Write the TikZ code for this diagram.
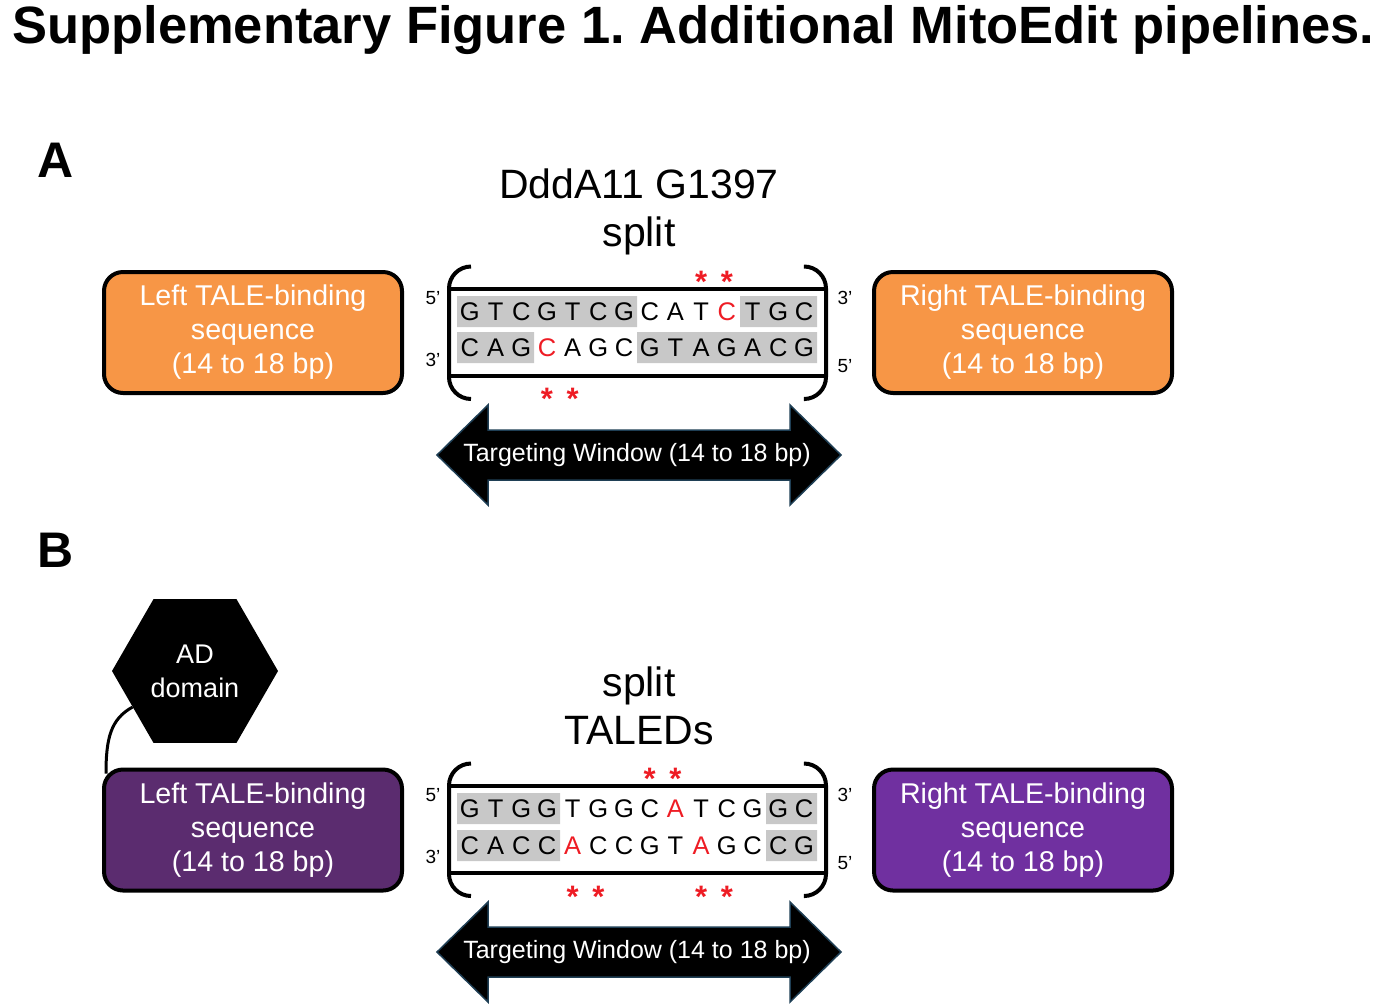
\documentclass[tikz,border=0pt]{standalone}
\usepackage{fontspec}
\setmainfont{Liberation Sans}
\usetikzlibrary{shapes.geometric}
\definecolor{taleorange}{HTML}{F79646}
\definecolor{talepurple}{HTML}{7030A0}
\definecolor{taledark}{HTML}{5B2C6F}
\definecolor{seqgrey}{HTML}{C8C8C8}
\definecolor{mutred}{HTML}{EE1C24}
\definecolor{arrowedge}{HTML}{1F3F55}
\newcommand\mut[1]{\textcolor{mutred}{#1}}
\newcommand\fs[2]{\fontsize{#1}{#2}\selectfont}
\frenchspacing

\begin{document}
\begin{tikzpicture}[x=1pt,y=-1pt,
  tale/.style={draw,line width=4pt,rounded corners=19pt,minimum width=298pt,minimum height=121pt,
    text=white,align=center,font=\fs{28.6}{34}},
  heading/.style={align=center,font=\fs{41}{48}},
  panel/.style={anchor=base west,inner sep=0pt,font=\bfseries\fs{50}{50}},
  nuc/.style={inner sep=0pt,font=\fs{25.5}{25.5}},
  prime/.style={inner sep=0pt,font=\fs{19}{19}},
  mutmark/.style={anchor=base,inner sep=0pt,text=mutred,font=\bfseries\fs{31}{31}},
  strand/.style={line width=4pt},
  window/.style={fill=black,draw=arrowedge,line width=1.5pt},
  wintext/.style={text=white,font=\fs{25}{25}},
  tether/.style={line width=3pt}]
  \def\cw{25.7}
  \def\xo{469.85}

  \useasboundingbox (0,0) rectangle (1391,1005);

  \node[anchor=base west,inner sep=0pt,font=\bfseries\fs{52.5}{52.5}] (title) at (12,43)
    {Supplementary Figure 1. Additional MitoEdit pipelines.};
  \node[panel] (labA) at (37,177) {A};
  \node[panel] (labB) at (37,567) {B};

  % frame, ends and window shared by both panels
  \foreach \p/\dy in {A/0,B/497}{
    \begin{scope}[shift={(0,\dy)}]
      \draw[strand,rounded corners=22pt] (471,266.5) -- (449,266.5) -- (449,399) -- (471,399);
      \draw[strand,rounded corners=22pt] (805,266.5) -- (826,266.5) -- (826,399) -- (805,399);
      \draw[strand] (449,288.5) -- (826,288.5) (449,376) -- (826,376);
      \node[prime] (fiveL\p) at (433,298) {5'};
      \node[prime] (threeL\p) at (433,360) {3'};
      \node[prime] (threeR\p) at (845,298) {3'};
      \node[prime] (fiveR\p) at (845,366) {5'};
      \draw[window] (437,455) -- (488,405) -- (488,430) -- (790,430) -- (790,405) -- (841,455)
        -- (790,505) -- (790,480) -- (488,480) -- (488,505) -- cycle;
      \node[wintext] (win\p) at (637,455) {Targeting Window (14 to 18 bp)};
    \end{scope}
  }

  % A
  \node[heading] (headA) at (639,212) {DddA11 G1397\\split};
  \node[tale,fill=taleorange] (leftA) at (253,332.5) {Left TALE-binding\\sequence\\(14 to 18 bp)};
  \node[tale,fill=taleorange] (rightA) at (1023,332.5) {Right TALE-binding\\sequence\\(14 to 18 bp)};
  \fill[seqgrey] (457,296) rectangle (637,327) (740,296) rectangle (817,327)
    (457,332) rectangle (534,363) (637,332) rectangle (817,363);
  \foreach \b [count=\i from 0] in {G,T,C,G,T,C,G,C,A,T,\mut C,T,G,C}
    \node[nuc] (tA\i) at ({\xo+\cw*\i},311.5) {\b};
  \foreach \b [count=\i from 0] in {C,A,G,\mut C,A,G,C,G,T,A,G,A,C,G}
    \node[nuc] (bA\i) at ({\xo+\cw*\i},347.5) {\b};
  \foreach \i in {9,10}
    \node[mutmark] (stA\i) at ({\xo+\cw*\i},292) {*};
  \foreach \i in {3,4}
    \node[mutmark] (sbA\i) at ({\xo+\cw*\i},409) {*};

  % B
  \node[heading] (headB) at (639,706) {split\\TALEDs};
  \node[tale,fill=taledark] (leftB) at (253,830) {Left TALE-binding\\sequence\\(14 to 18 bp)};
  \node[tale,fill=talepurple] (rightB) at (1023,830) {Right TALE-binding\\sequence\\(14 to 18 bp)};
  \fill[seqgrey] (457,793) rectangle (560,824) (766,793) rectangle (817,824)
    (457,830) rectangle (560,861) (766,830) rectangle (817,861);
  \foreach \b [count=\i from 0] in {G,T,G,G,T,G,G,C,\mut A,T,C,G,G,C}
    \node[nuc] (tB\i) at ({\xo+\cw*\i},808.5) {\b};
  \foreach \b [count=\i from 0] in {C,A,C,C,\mut A,C,C,G,T,\mut A,G,C,C,G}
    \node[nuc] (bB\i) at ({\xo+\cw*\i},845.5) {\b};
  \foreach \i in {7,8}
    \node[mutmark] (stB\i) at ({\xo+\cw*\i},789) {*};
  \foreach \i in {4,5,9,10}
    \node[mutmark] (sbB\i) at ({\xo+\cw*\i},907) {*};

  \node[regular polygon,regular polygon sides=6,minimum size=166pt,inner sep=0pt,fill=black,
    text=white,align=center,font=\fs{27}{34}] (hexAD) at (195,671) {AD\\domain};
  \draw[tether] (hexAD.210) .. controls +(-22,12) and +(0,-35) .. ([shift={(4,6)}]leftB.north west);

\end{tikzpicture}
\end{document}
